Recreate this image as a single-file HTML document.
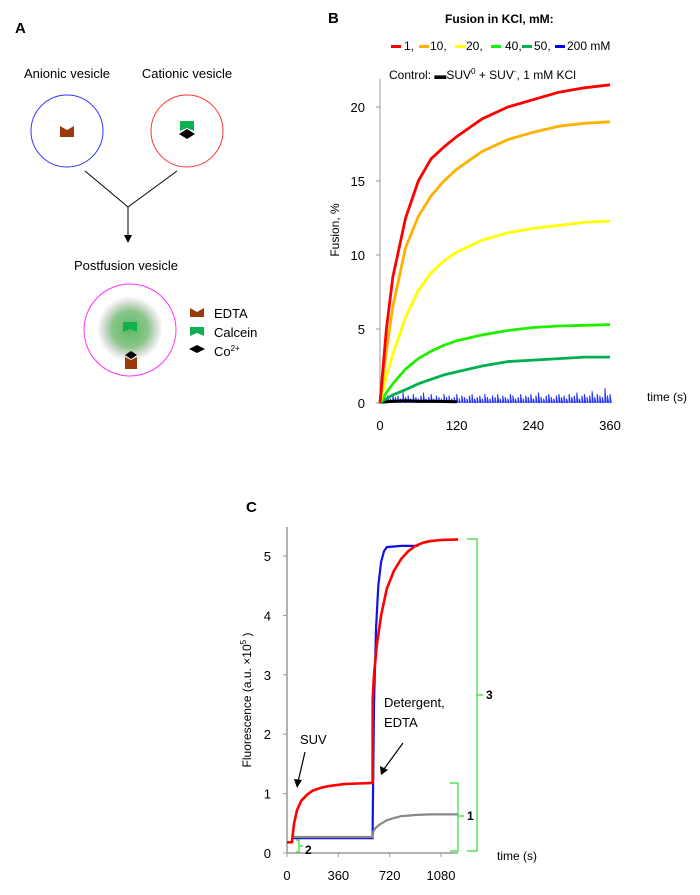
<!DOCTYPE html>
<html><head><meta charset="utf-8">
<style>
body{margin:0;background:#fff;}
svg{display:block;font-family:"Liberation Sans","DejaVu Sans",sans-serif;}
</style></head>
<body>
<svg id="fig" width="700" height="895" viewBox="0 0 700 895" xmlns="http://www.w3.org/2000/svg">
<defs>
<radialGradient id="glow" cx="0.5" cy="0.5" r="0.5">
<stop offset="0" stop-color="#4caf50" stop-opacity="0.9"/>
<stop offset="0.55" stop-color="#6cb86c" stop-opacity="0.8"/>
<stop offset="1" stop-color="#999" stop-opacity="0"/>
</radialGradient>
</defs>
<g>
<text x="15" y="33" font-size="15" font-weight="bold">A</text>
<text x="67" y="78" font-size="13" text-anchor="middle">Anionic vesicle</text>
<text x="187" y="78" font-size="13" text-anchor="middle">Cationic vesicle</text>
<circle cx="67" cy="131" r="36" fill="none" stroke="#3333ff" stroke-width="1"/>
<circle cx="187" cy="131" r="36" fill="none" stroke="#ff3333" stroke-width="1"/>
<polygon points="60,126 67,130 74,126 74,137 60,137" fill="#9a3a0c"/>
<polygon points="180,121 194,121 194,131 187,128 180,131" fill="#0fb050"/>
<polygon points="179,134 187,129 195,134 187,139" fill="#000"/>
<line x1="85" y1="171" x2="128" y2="207" stroke="#000" stroke-width="1"/>
<line x1="177" y1="171" x2="128" y2="207" stroke="#000" stroke-width="1"/>
<line x1="128" y1="207" x2="128" y2="241" stroke="#000" stroke-width="1"/>
<polygon points="124,235 128,243 132,235" fill="#000"/>
<text x="126" y="270" font-size="13" text-anchor="middle">Postfusion vesicle</text>
<circle cx="130" cy="329" r="33" fill="url(#glow)"/>
<circle cx="130" cy="330" r="46" fill="none" stroke="#ff33ff" stroke-width="1"/>
<polygon points="123,322 137,322 137,332 130,329 123,332" fill="#0fb050"/>
<polygon points="125,355 131,351 137,355 131,359" fill="#000"/>
<polygon points="125,357 131,360 137,357 137,369 125,369" fill="#9a3a0c"/>
<g>
<polygon points="190,308 197,312 204,308 204,317 190,317" fill="#9a3a0c"/>
<text x="214" y="318" font-size="13">EDTA</text>
<polygon points="190,327 204,327 204,336 197,333 190,336" fill="#0fb050"/>
<text x="214" y="337" font-size="13">Calcein</text>
<polygon points="189,349 197,345 205,349 197,353" fill="#000"/>
<text x="214" y="356" font-size="13">Co<tspan font-size="8" dy="-5">2+</tspan></text>
</g>
</g>
<g id="chartB">
<text x="328" y="23" font-size="15" font-weight="bold">B</text>
<text x="445" y="23" font-size="12" font-weight="bold">Fusion in KCl, mM:</text>
<g>
<rect x="391" y="45" width="10" height="3" fill="#ff0000"/><text x="404" y="50" font-size="12">1,</text>
<rect x="419" y="45" width="10" height="3" fill="#ffb000"/><text x="430" y="50" font-size="12">10,</text>
<rect x="455" y="45" width="10" height="3" fill="#ffff00"/><text x="466" y="50" font-size="12">20,</text>
<rect x="491" y="45" width="10" height="3" fill="#00ff00"/><text x="505" y="50" font-size="12">40,</text>
<rect x="522" y="45" width="10" height="3" fill="#00b050"/><text x="534" y="50" font-size="12">50,</text>
<rect x="555" y="45" width="10" height="3" fill="#0000ff"/><text x="567" y="50" font-size="12">200 mM</text>
</g>
<text x="389" y="79" font-size="12">Control: <tspan fill="#000">▬</tspan>SUV<tspan font-size="8" dy="-5">0</tspan><tspan dy="5"> + SUV</tspan><tspan font-size="8" dy="-5">-</tspan><tspan dy="5">, 1 mM KCl</tspan></text>
<text transform="translate(339,230) rotate(-90)" font-size="12" text-anchor="middle">Fusion, %</text>
<text x="647" y="401" font-size="12">time (s)</text>
<g id="bAxes"></g>
<g id="bSeries"></g>
</g>
<g id="chartC">
<text x="246" y="512" font-size="15" font-weight="bold">C</text>
<text transform="translate(251,700) rotate(-90)" font-size="12" text-anchor="middle">Fluorescence (a.u. ×10<tspan font-size="8" dy="-5">5</tspan><tspan dy="5"> )</tspan></text>
<text x="497" y="860" font-size="12">time (s)</text>
<g id="cAxes"></g>
<g id="cSeries"></g>
<text x="300" y="744" font-size="13">SUV</text>
<line x1="305" y1="752" x2="298" y2="782" stroke="#000" stroke-width="1.2"/>
<polygon points="294,779 297,788 302,780" fill="#000"/>
<text x="384" y="707" font-size="13">Detergent,</text>
<text x="384" y="727" font-size="13">EDTA</text>
<line x1="403" y1="743" x2="384" y2="769" stroke="#000" stroke-width="1.2"/>
<polygon points="380,766 381,775 388,770" fill="#000"/>
<g fill="none" stroke="#33dd33" stroke-width="1.2">
<path d="M467,539 h10 v156 h6 M477,695 v156 h-10"/>
<path d="M450,783 h8 v33 h6 M458,816 v35 h-8"/>
<path d="M296,840 h3 v6 h4 M299,846 v6 h-3"/>
</g>
<text x="486" y="699" font-size="12" font-weight="bold">3</text>
<text x="467" y="820" font-size="12" font-weight="bold">1</text>
<text x="305" y="854" font-size="12" font-weight="bold">2</text>
</g>
</svg>
<script>
var NS="http://www.w3.org/2000/svg";
var bTimes=[0,10,20,40,60,80,100,120,160,200,240,280,320,360];
var bRed=[0,5,8.5,12.5,15,16.5,17.3,18,19.2,20,20.5,21,21.3,21.5];
var bOrange=[0,3.5,6.5,10.5,12.6,14,15,15.8,17,17.8,18.3,18.7,18.9,19];
var bYellow=[0,1.8,3.3,5.8,7.6,8.8,9.6,10.2,11,11.5,11.8,12,12.2,12.3];
var bGreen40=[0,0.7,1.3,2.3,3.0,3.5,3.9,4.2,4.6,4.9,5.1,5.2,5.25,5.3];
var bGreen50=[0,0.3,0.55,0.9,1.3,1.6,1.9,2.1,2.5,2.8,2.9,3.0,3.1,3.1];
// 200 mM noise spikes, one every 4 s
var bBlue=[0.2,0.4,0.3,0.5,0.3,0.6,0.4,0.5,0.3,0.7,0.4,0.5,0.3,0.6,0.4,0.3,0.5,0.7,0.3,0.4,0.6,0.3,0.5,0.4,0.3,0.6,0.4,0.5,0.3,0.4,0.6,0.3,0.5,0.4,0.3,0.5,0.6,0.3,0.4,0.5,0.3,0.6,0.4,0.3,0.5,0.4,0.6,0.3,0.5,0.4,0.3,0.6,0.5,0.3,0.4,0.6,0.3,0.5,0.4,0.6,0.3,0.5,0.7,0.4,0.3,0.5,0.6,0.4,0.3,0.5,0.6,0.4,0.5,0.3,0.6,0.4,0.5,0.7,0.3,0.5,0.6,0.4,0.5,0.8,0.4,0.6,0.5,0.4,1.0,0.5,0.6];
var bBlueStep=4;
var bBlackTimes=[0,20,40,60,80,100,120];
var bBlack=[0.05,0.12,0.15,0.12,0.12,0.1,0.08];
var bYTicks=[0,5,10,15,20];
var bXTicks=[0,120,240,360];
var cRedT=[0,35,40,50,70,100,140,180,240,300,400,500,600,601,610,630,660,700,750,800,850,900,950,1000,1080,1200];
var cRed=[0.18,0.18,0.3,0.5,0.72,0.88,0.98,1.05,1.1,1.13,1.16,1.17,1.18,2.6,3.0,3.5,4.0,4.45,4.75,4.95,5.08,5.17,5.22,5.25,5.27,5.28];
var cBlueT=[40,45,100,300,600,601,610,625,640,660,680,700,750,800,920];
var cBlue=[0.3,0.25,0.25,0.25,0.25,0.5,2.5,3.8,4.5,4.9,5.08,5.15,5.16,5.17,5.17];
var cGrayT=[45,100,300,600,605,620,650,700,750,800,850,900,1000,1200];
var cGray=[0.27,0.27,0.27,0.27,0.36,0.42,0.48,0.55,0.59,0.62,0.63,0.64,0.65,0.65];
var cYTicks=[0,1,2,3,4,5];
var cXTicks=[0,360,720,1080];
function bx(t){return 380+t*(230/360);}
function by(v){return 403-v*(296/20);}
function cx(t){return 287+t*(154/1080);}
function cy(v){return 853-v*(297/5);}
function el(tag,attrs,parent){var e=document.createElementNS(NS,tag);for(var k in attrs)e.setAttribute(k,attrs[k]);parent.appendChild(e);return e;}
function poly(ts,vs,fx,fy){var p=[];for(var i=0;i<ts.length;i++)p.push(fx(ts[i]).toFixed(1)+","+fy(vs[i]).toFixed(1));return p.join(" ");}

var bA=document.getElementById("bAxes");
var ya=el("line",{x1:380,y1:79,x2:380,y2:403,stroke:"#999","stroke-width":1},bA);


bYTicks.forEach(function(v){
  el("line",{x1:376,x2:380,y1:by(v),y2:by(v),stroke:"#999"},bA);
  var t=el("text",{x:365,y:by(v)+5,"font-size":13,"text-anchor":"end"},bA);t.textContent=v;
  
  
});
bXTicks.forEach(function(v){
  var t=el("text",{x:bx(v),y:430,"font-size":13,"text-anchor":"middle"},bA);t.textContent=v;
  
  
});
var bS=document.getElementById("bSeries");
var d="";
for(var i=0;i<bBlue.length;i++){var x=bx(i*bBlueStep);d+="M"+x.toFixed(1)+","+by(0)+"V"+by(bBlue[i]).toFixed(1)+"L"+(x+1.2).toFixed(1)+","+by(0);}
var bl=el("path",{d:d,fill:"none",stroke:"#2233ff","stroke-width":1},bS);


var bk=el("polyline",{points:poly(bBlackTimes,bBlack,bx,by),fill:"none",stroke:"#000","stroke-width":3},bS);


[[bGreen50,"#00b050","series-50mm"],[bGreen40,"#22ee00","series-40mm"],[bYellow,"#ffff00","series-20mm"],[bOrange,"#ffb000","series-10mm"],[bRed,"#ff0000","series-1mm"]].forEach(function(s){
  var p=el("polyline",{points:poly(bTimes,s[0],bx,by),fill:"none",stroke:s[1],"stroke-width":2.8,"stroke-linejoin":"round"},bS);
  
  
});

var cA=document.getElementById("cAxes");
var cya=el("line",{x1:287,y1:527,x2:287,y2:853,stroke:"#999","stroke-width":1.5},cA);


var cxa=el("line",{x1:287,y1:853,x2:458,y2:853,stroke:"#999","stroke-width":1.5},cA);


cYTicks.forEach(function(v){
  el("line",{x1:283,x2:287,y1:cy(v),y2:cy(v),stroke:"#999"},cA);
  var t=el("text",{x:271,y:cy(v)+5,"font-size":13,"text-anchor":"end"},cA);t.textContent=v;
  
  
});
cXTicks.forEach(function(v){
  el("line",{x1:cx(v),x2:cx(v),y1:853,y2:857,stroke:"#999"},cA);
  var t=el("text",{x:cx(v),y:880,"font-size":13,"text-anchor":"middle"},cA);t.textContent=v;
  
  
});
var cS=document.getElementById("cSeries");
var cb=el("polyline",{points:poly(cBlueT,cBlue,cx,cy),fill:"none",stroke:"#1111ee","stroke-width":2.2},cS);


var cg=el("polyline",{points:poly(cGrayT,cGray,cx,cy),fill:"none",stroke:"#888","stroke-width":2.2},cS);


var cr=el("polyline",{points:poly(cRedT,cRed,cx,cy),fill:"none",stroke:"#ff0000","stroke-width":2.6,"stroke-linejoin":"round"},cS);


</script>
</body></html>
